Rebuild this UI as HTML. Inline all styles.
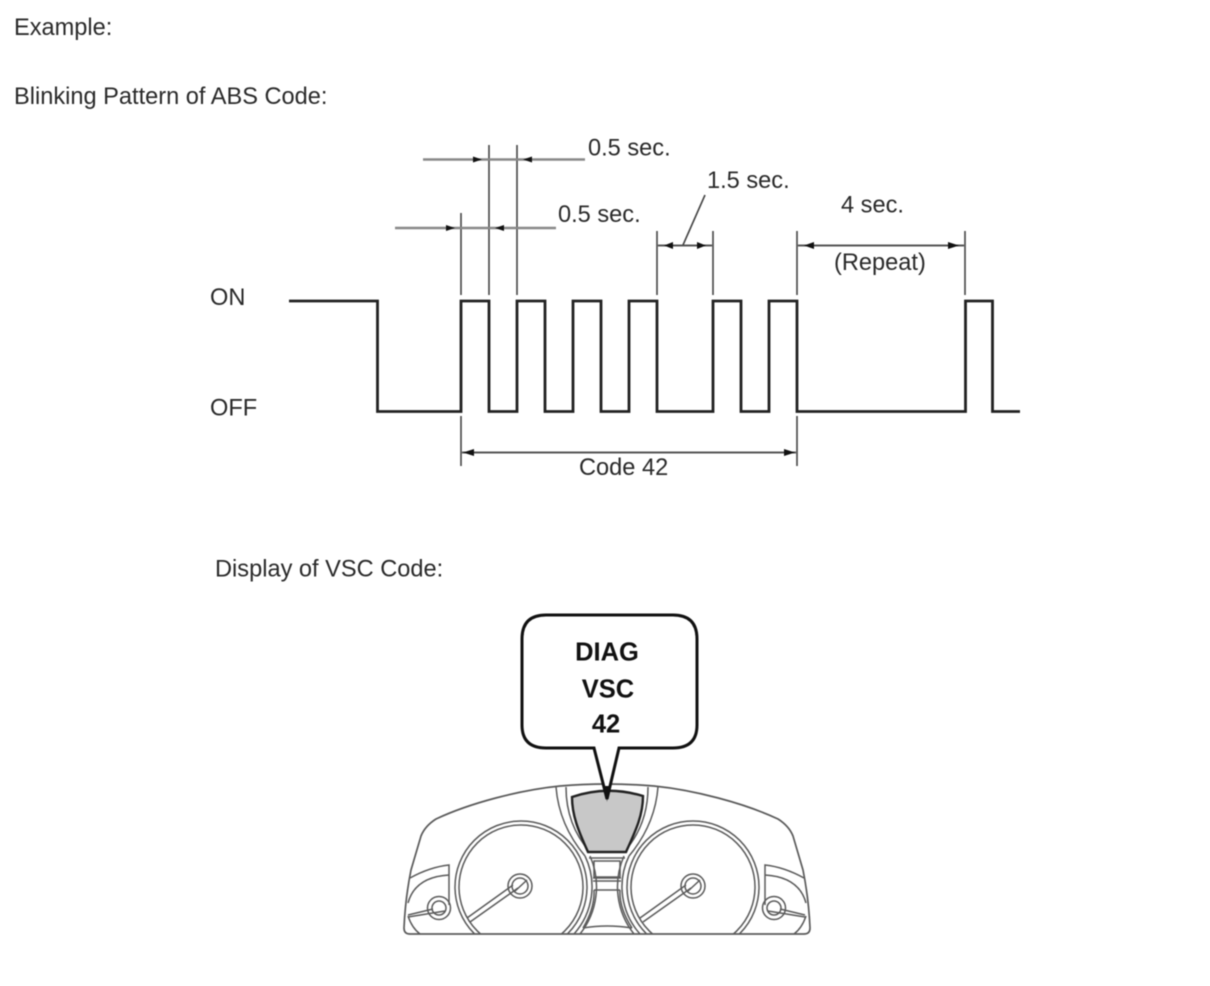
<!DOCTYPE html>
<html><head><meta charset="utf-8"><style>
html,body{margin:0;padding:0;background:#fff}
svg{display:block;filter:blur(.4px)}
text{font-family:"Liberation Sans",sans-serif;font-size:23.6px;fill:#2a2a2a}
.b{font-weight:bold;font-size:25.500px;fill:#111;text-anchor:middle}
</style></head><body>
<svg width="1210" height="986" viewBox="0 0 1210 986" xmlns="http://www.w3.org/2000/svg">
<defs><clipPath id="c"><rect x="400" y="780" width="420" height="154"/></clipPath></defs>
<text x="14" y="35">Example:</text>
<text x="14" y="104">Blinking Pattern of ABS Code:</text>
<text x="588" y="155.500">0.5 sec.</text>
<text x="558" y="222">0.5 sec.</text>
<text x="707" y="188">1.5 sec.</text>
<text x="841" y="212.500">4 sec.</text>
<text x="834" y="270">(Repeat)</text>
<text x="210" y="305">ON</text>
<text x="210" y="415.500">OFF</text>
<text x="579" y="475">Code 42</text>
<text x="215" y="576.500">Display of VSC Code:</text>

<path d="M289 301H377.500V411.500H461V301H489V411.500H517V301H545V411.500H573V301H601V411.500H629V301H657V411.500H713V301H741V411.500H769V301H797V411.500H965.500V301H992.500V411.500H1020" fill="none" stroke="#222" stroke-width="2.800"/>

<g fill="none" stroke="#444" stroke-width="1.600">
<path d="M461 213V295M489 145V295M517 145V295M657 231V295M713 231V295M797 231V295M965 231V295"/>
<path d="M461 416V466M797 416V466"/>
<path d="M423 159.500H585M395 228H556" stroke="#888" stroke-width="2.400"/>
<path d="M658 245.500H712M798 245.500H964M462 452.500H796" stroke="#555" stroke-width="1.900"/>
<path d="M683 245L705 195"/>
</g>
<g fill="#111">
<path d="M482 159.500l-9-3v6zM523 159.500l9-3v6zM455 228l-9-3v6zM495 228l9-3v6z"/>
<path d="M664 245.500l9-3.500v7zM706 245.500l-9-3.500v7zM804 245.500l10-3.500v7zM959 245.500l-11-3.500v7zM463 452.500l11-3.500v7zM795 452.500l-11-3.500v7z"/>
</g>

<!-- Cluster -->
<g fill="none" stroke="#5a5a5a" stroke-width="1.500">
<path d="M404 928C405 905 408 885 411 870L421 836Q425 826 436 819C470 803 520 790 560 786Q607 782 654 786C694 790 744 803 778 819Q789 826 793 836L803 870C806 885 809 905 810 928Q810 934 804 934H410Q404 934 404 928Z" stroke-width="1.700"/>
<path d="M556 787Q559 825 585 856M566 787Q566 825 590 852M658 787Q655 825 629 856M648 787Q648 825 624 852"/>
<g clip-path="url(#c)">
<circle cx="521" cy="887" r="66"/><circle cx="521" cy="887" r="62"/>
<circle cx="693" cy="887" r="66"/><circle cx="693" cy="887" r="62"/>
</g>
<path d="M585 856A71 71 0 0 1 574 934M590 856A76 76 0 0 1 580 934"/>
<path d="M629 856A71 71 0 0 0 640 934M624 856A76 76 0 0 0 634 934"/>
<rect x="594" y="861" width="26" height="16"/>
<path d="M589 858H625M593 878H621M593 881H621M594 890H620M583 928Q607 924 632 928M594 890Q595 908 583 928M620 890Q619 908 632 928"/>
<circle cx="520" cy="886" r="12"/><circle cx="520" cy="886" r="8"/>
<circle cx="693" cy="886" r="12"/><circle cx="693" cy="886" r="8"/>
<path d="M467 918L513 885M470 922L518 888M514 892L527 880M640 918L686 885M643 922L691 888M687 892L700 880"/>
<path d="M410 878Q430 867 449 865V905M408 903Q415 877 449 875"/>
<path d="M804 878Q784 867 765 865V905M806 903Q799 877 765 875"/>
<path d="M408 916Q412 928 420 934M806 916Q802 928 794 934"/>
<circle cx="439" cy="908" r="11.500"/><circle cx="439" cy="908" r="7"/>
<circle cx="774" cy="908" r="11.500"/><circle cx="774" cy="908" r="7"/>
<path d="M408 915L433 909M408 917L445 911M805 915L780 909M805 917L768 911"/>
</g>
<path d="M572 797Q607 785 643 796C643 815 636 830 626 852H588C578 830 572 815 572 797Z" fill="#c8c8c8" stroke="#222" stroke-width="2.400"/>

<!-- Callout -->
<path d="M546 615H673Q697 615 697 639V725Q697 748 673 748H619L607 799L594 748H546Q522 748 522 725V639Q522 615 546 615Z" fill="#fff" stroke="#111" stroke-width="3"/>
<path d="M605 786H609L607 802Z" fill="#111"/>
<text class="b" x="607" y="660.500">DIAG</text>
<text class="b" x="608" y="697.500">VSC</text>
<text class="b" x="606" y="732.500">42</text>
</svg>
</body></html>
